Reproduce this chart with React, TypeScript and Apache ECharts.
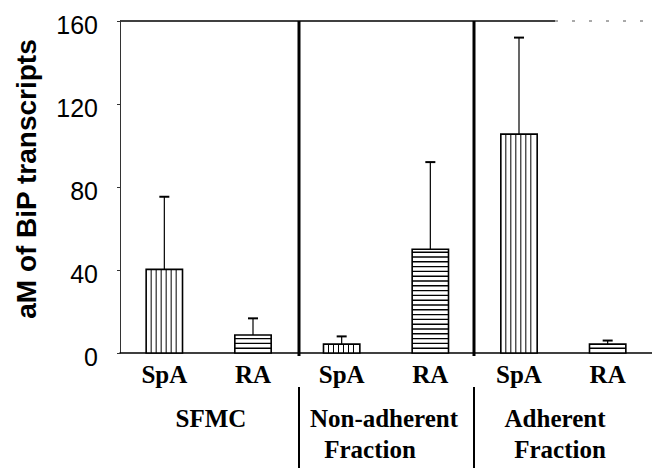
import React, { useEffect, useRef } from "react";
import * as echarts from "echarts";

// ---- data ----
const categories = ["SpA", "RA", "SpA", "RA", "SpA", "RA"];
const meanValues = [40.3, 8.7, 4.3, 50, 105.5, 4.3];
const errorValues = [35, 8, 3.7, 42, 46.5, 1.7];
const stripeDirections = ["vertical", "horizontal", "vertical", "horizontal", "vertical", "horizontal"];
const groupFirstLines = ["SFMC", "Non-adherent", "Adherent"];
const groupSecondLines = ["", "Fraction", "Fraction"];
const yAxisTitle = "aM of BiP transcripts";
const yMin = 0;
const yMax = 160;
const yStep = 40;

// ---- layout (not data) ----
const GRID = { left: 120, top: 21, width: 536, height: 332 };
const GROUP_FIRST_POS = [[211, 418], [384, 418], [555, 418]];
const GROUP_SECOND_POS = [[0, 0], [370, 449], [560, 449]];
const DIVIDER_X = [299, 474];

const LABEL_FONT = 'bold 25px "Liberation Serif"';

export default function App() {
  const ref = useRef<HTMLDivElement>(null);

  useEffect(() => {
    if (!ref.current) return;
    const chart = echarts.init(ref.current, undefined, { renderer: "svg" });

    const renderBar = (_params: any, api: any) => {
      const i = api.value(0);
      const v = api.value(1);
      const e = api.value(2);
      const dir = stripeDirections[i];
      const band = api.size([1, 0])[0];
      const bw = band * 0.41;
      const top = api.coord([i, v]);
      const base = api.coord([i, 0]);
      const errTop = api.coord([i, v + e]);
      const cx = top[0];
      const x0 = cx - bw / 2;
      const x1 = cx + bw / 2;
      const y0 = top[1];
      const y1 = base[1];
      const children: any[] = [];
      children.push({
        type: "rect",
        shape: { x: x0, y: y0, width: bw, height: y1 - y0 },
        style: { fill: "#fff", stroke: "none" },
      });
      if (dir === "vertical") {
        for (let x = x0 + 5; x < x1 - 1.5; x += 5) {
          children.push({
            type: "line",
            shape: { x1: x, y1: y0, x2: x, y2: y1 },
            style: { stroke: "#000", lineWidth: 1 },
          });
        }
      } else {
        for (let y = y1 - 4.8; y > y0 + 1.5; y -= 4.8) {
          children.push({
            type: "line",
            shape: { x1: x0, y1: y, x2: x1, y2: y },
            style: { stroke: "#000", lineWidth: 1.4 },
          });
        }
      }
      children.push({
        type: "rect",
        shape: { x: x0, y: y0, width: bw, height: y1 - y0 },
        style: { fill: "none", stroke: "#000", lineWidth: 1.6 },
      });
      children.push({
        type: "line",
        shape: { x1: cx, y1: y0, x2: cx, y2: errTop[1] },
        style: { stroke: "#000", lineWidth: 1.2 },
      });
      children.push({
        type: "line",
        shape: { x1: cx - 5, y1: errTop[1], x2: cx + 5, y2: errTop[1] },
        style: { stroke: "#000", lineWidth: 2 },
      });
      return { type: "group", children };
    };

    const textStyle = (t: string, font: string) => ({
      text: t,
      font,
      fill: "#000",
      align: "center",
      verticalAlign: "middle",
      textAlign: "center",
      textVerticalAlign: "middle",
    });

    const graphics: any[] = [];
    graphics.push({
      type: "line",
      shape: { x1: GRID.left, y1: GRID.top, x2: 555, y2: GRID.top },
      style: { stroke: "#000", lineWidth: 1.4 },
    });
    graphics.push({
      type: "line",
      shape: { x1: 555, y1: GRID.top, x2: 652, y2: GRID.top },
      style: { stroke: "#555", lineWidth: 1, lineDash: [3, 14] },
    });
    DIVIDER_X.forEach((x) => {
      graphics.push({
        type: "line",
        shape: { x1: x, y1: GRID.top, x2: x, y2: 356 },
        style: { stroke: "#000", lineWidth: 3 },
      });
      graphics.push({
        type: "line",
        shape: { x1: x, y1: 387, x2: x, y2: 468 },
        style: { stroke: "#000", lineWidth: 2 },
      });
    });
    groupFirstLines.forEach((t, i) => {
      graphics.push({
        type: "text",
        x: GROUP_FIRST_POS[i][0],
        y: GROUP_FIRST_POS[i][1],
        style: textStyle(t, LABEL_FONT),
      });
    });
    groupSecondLines.forEach((t, i) => {
      if (!t) return;
      graphics.push({
        type: "text",
        x: GROUP_SECOND_POS[i][0],
        y: GROUP_SECOND_POS[i][1],
        style: textStyle(t, LABEL_FONT),
      });
    });
    graphics.push({
      type: "text",
      x: 26,
      y: 179,
      rotation: Math.PI / 2,
      style: textStyle(yAxisTitle, 'bold 28px "Liberation Sans"'),
    });

    chart.setOption({
      animation: false,
      backgroundColor: "#fff",
      grid: { ...GRID },
      xAxis: {
        type: "category",
        data: categories,
        axisLine: { show: true, lineStyle: { color: "#000", width: 1.5 } },
        axisTick: { show: false },
        axisLabel: {
          interval: 0,
          color: "#000",
          fontFamily: "Liberation Serif",
          fontWeight: "bold",
          fontSize: 25,
          margin: 9,
        },
        splitLine: { show: false },
      },
      yAxis: {
        type: "value",
        min: yMin,
        max: yMax,
        interval: yStep,
        axisLine: { show: true, lineStyle: { color: "#333", width: 1 } },
        axisTick: { show: true, length: 3, lineStyle: { color: "#333" } },
        axisLabel: {
          color: "#000",
          margin: 22,
          formatter: "{t|{value}}",
          rich: {
            t: {
              fontFamily: "Liberation Sans",
              fontSize: 25,
              color: "#000",
              padding: [7, 0, 0, 0],
            },
          },
        },
        splitLine: { show: false },
      },
      graphic: graphics,
      series: [
        {
          type: "custom",
          renderItem: renderBar,
          encode: { x: 0, y: 1 },
          data: categories.map((_, i) => [i, meanValues[i], errorValues[i]]),
          clip: false,
        },
      ],
    });

    return () => chart.dispose();
  }, []);

  return (
    <div
      ref={ref}
      style={{ position: "fixed", left: 0, top: 0, width: 652, height: 468, background: "#fff" }}
    />
  );
}
